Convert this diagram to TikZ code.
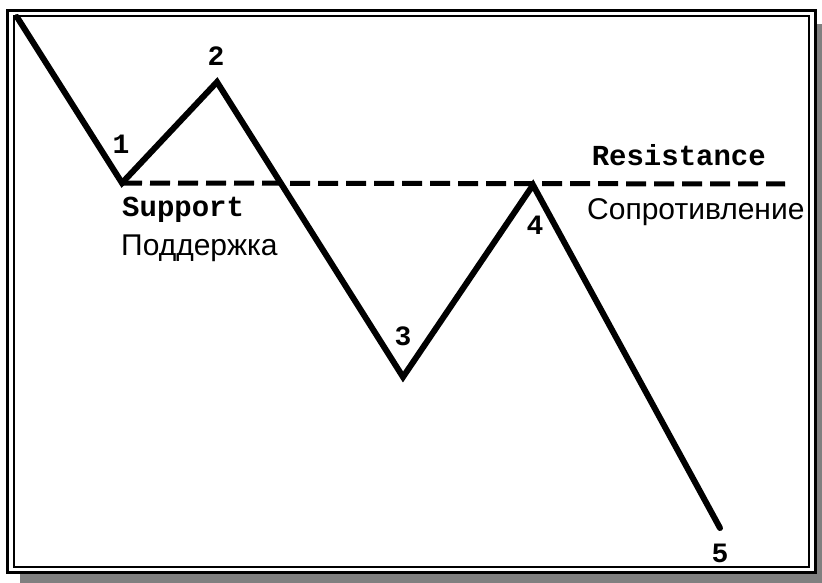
\documentclass[tikz,border=0pt]{standalone}
\usepackage{fontspec}
\setmainfont{Liberation Sans}
\newfontfamily\monob{Liberation Mono}
\begin{document}
\begin{tikzpicture}[x=1pt,y=-1pt,
  wave/.style={line width=6pt,line join=miter,line cap=round},
  level/.style={line width=5pt,dash pattern=on 20pt off 8pt},
  num/.style={font=\monob\bfseries\fontsize{28}{28}\selectfont,inner sep=0pt},
  eng/.style={font=\monob\bfseries\fontsize{29}{29}\selectfont,inner sep=0pt},
  rus/.style={font=\fontsize{30}{30}\selectfont,inner sep=0pt}]
\useasboundingbox (0,0) rectangle (822,583);
% shadow and frame
\fill[gray] (20,24) rectangle (822,583);
\draw[line width=3pt,fill=white] (7,11) rectangle (815,572);
\draw[line width=2.5pt] (14,16) rectangle (809,567);
% points
\coordinate (p0) at (17,17);
\coordinate (p1) at (122,183);
\coordinate (p2) at (217,82);
\coordinate (p3) at (403,377);
\coordinate (p4) at (533,185);
\coordinate (p5) at (720,528);
\coordinate (rend) at (785,184);
\draw[level] (p1) -- (rend);
\draw[wave] (p0) -- (p1) -- (p2) -- (p3) -- (p4) -- (p5);
% labels
\node[num] (n1) at (121,144) {1};
\node[num] (n2) at (216,56) {2};
\node[num] (n3) at (403,336) {3};
\node[num] (n4) at (535,225) {4};
\node[num] (n5) at (720,553) {5};
\node[eng,anchor=west] (sup) at (122,210) {Support};
\node[rus,anchor=west] (supr) at (121,248) {Поддержка};
\node[eng,anchor=east] (res) at (766,155) {Resistance};
\node[rus,anchor=west] (resr) at (587,212) {Сопротивление};
\end{tikzpicture}
\end{document}
